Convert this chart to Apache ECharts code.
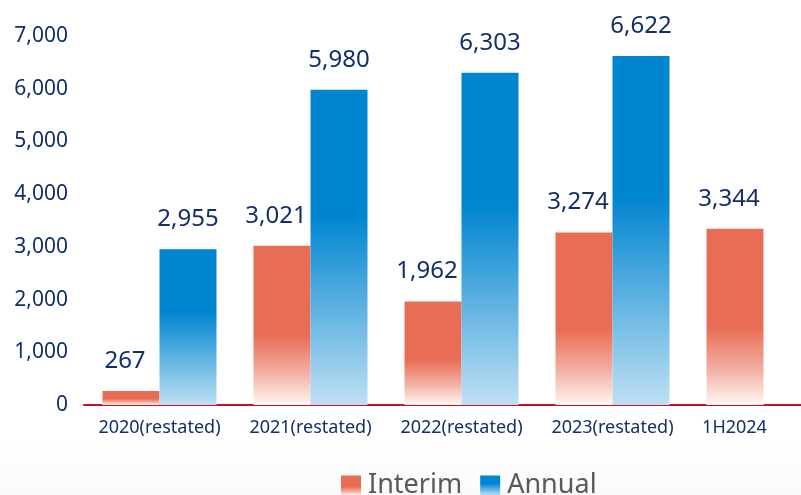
<!DOCTYPE html>
<html>
<head>
<meta charset="utf-8">
<script src="https://cdn.jsdelivr.net/npm/echarts@6/dist/echarts.min.js"></script>
<style>
  html, body { margin: 0; padding: 0; background: #ffffff; overflow: hidden; }
  #chart { width: 839px; height: 495px; }
</style>
</head>
<body>
<div id="chart"></div>
<script>
// Reporting periods along the x axis
const categories = ['2020(restated)', '2021(restated)', '2022(restated)', '2023(restated)', '1H2024'];
// Interim results per period
const interimValues = [267, 3021, 1962, 3274, 3344];
// Annual results per period (none yet for 1H2024)
const annualValues = [2955, 5980, 6303, 6622, null];
// Value axis ticks
const yMin = 0, yMax = 7000, yStep = 1000;

const navy = '#122f6a';
const fontFamily = '"Noto Sans", "Open Sans", sans-serif';

const redFill = new echarts.graphic.LinearGradient(0, 0, 0, 1, [
  { offset: 0, color: '#e96c55' },
  { offset: 0.56, color: '#e96c55' },
  { offset: 0.8, color: '#f2b0a3' },
  { offset: 1, color: '#fff7f3' }
]);
const blueFill = new echarts.graphic.LinearGradient(0, 0, 0, 1, [
  { offset: 0, color: '#0085d0' },
  { offset: 0.4, color: '#0085d0' },
  { offset: 1, color: '#bfe0f3' }
]);

const chart = echarts.init(document.getElementById('chart'), null, { renderer: 'canvas' });

chart.setOption({
  animation: false,
  backgroundColor: '#ffffff',
  graphic: [{
    type: 'rect',
    z: -10,
    shape: { x: 0, y: 440, width: 839, height: 55 },
    style: {
      fill: new echarts.graphic.LinearGradient(0, 0, 0, 1, [
        { offset: 0, color: '#ffffff' },
        { offset: 0.4, color: '#fdfdfd' },
        { offset: 1, color: '#fafafa' }
      ])
    },
    silent: true
  }],
  grid: { left: 84, right: 0, top: 36, bottom: 90, containLabel: false },
  legend: {
    bottom: -9,
    left: 336,
    itemWidth: 20,
    itemHeight: 20,
    itemGap: 18,
    icon: 'rect',
    textStyle: { fontFamily, fontSize: 27, color: '#595959', padding: [0, 0, 0, 2] },
    data: ['Interim', 'Annual']
  },
  xAxis: {
    type: 'category',
    data: categories,
    axisLine: { show: true, lineStyle: { color: '#c8102e', width: 2 } },
    axisTick: { show: false },
    axisLabel: {
      interval: 0,
      margin: 14,
      color: navy,
      fontFamily,
      fontSize: 18,
      formatter: function (v) {
        return v === '1H2024' ? '{shift|' + v + '}' : v;
      },
      rich: {
        shift: { color: navy, fontFamily, fontSize: 18, padding: [0, 58, 0, 0] }
      }
    }
  },
  yAxis: {
    type: 'value',
    min: yMin,
    max: yMax,
    interval: yStep,
    axisLine: { show: false },
    axisTick: { show: false },
    splitLine: { show: false },
    axisLabel: {
      margin: 16,
      color: navy,
      fontFamily,
      fontSize: 21,
      formatter: function (v) { return v.toLocaleString('en-US'); }
    }
  },
  series: [
    {
      name: 'Interim',
      type: 'bar',
      data: interimValues,
      barWidth: 57,
      barGap: '0%',
      itemStyle: { color: redFill },
      label: {
        show: true,
        position: 'top',
        distance: 18,
        offset: [-6, 0],
        color: navy,
        fontFamily,
        fontSize: 24,
        formatter: function (p) { return p.value.toLocaleString('en-US'); }
      }
    },
    {
      name: 'Annual',
      type: 'bar',
      data: annualValues,
      barWidth: 57,
      barGap: '0%',
      itemStyle: { color: blueFill },
      label: {
        show: true,
        position: 'top',
        distance: 18,
        color: navy,
        fontFamily,
        fontSize: 24,
        formatter: function (p) { return p.value.toLocaleString('en-US'); }
      }
    }
  ]
});
</script>
</body>
</html>
